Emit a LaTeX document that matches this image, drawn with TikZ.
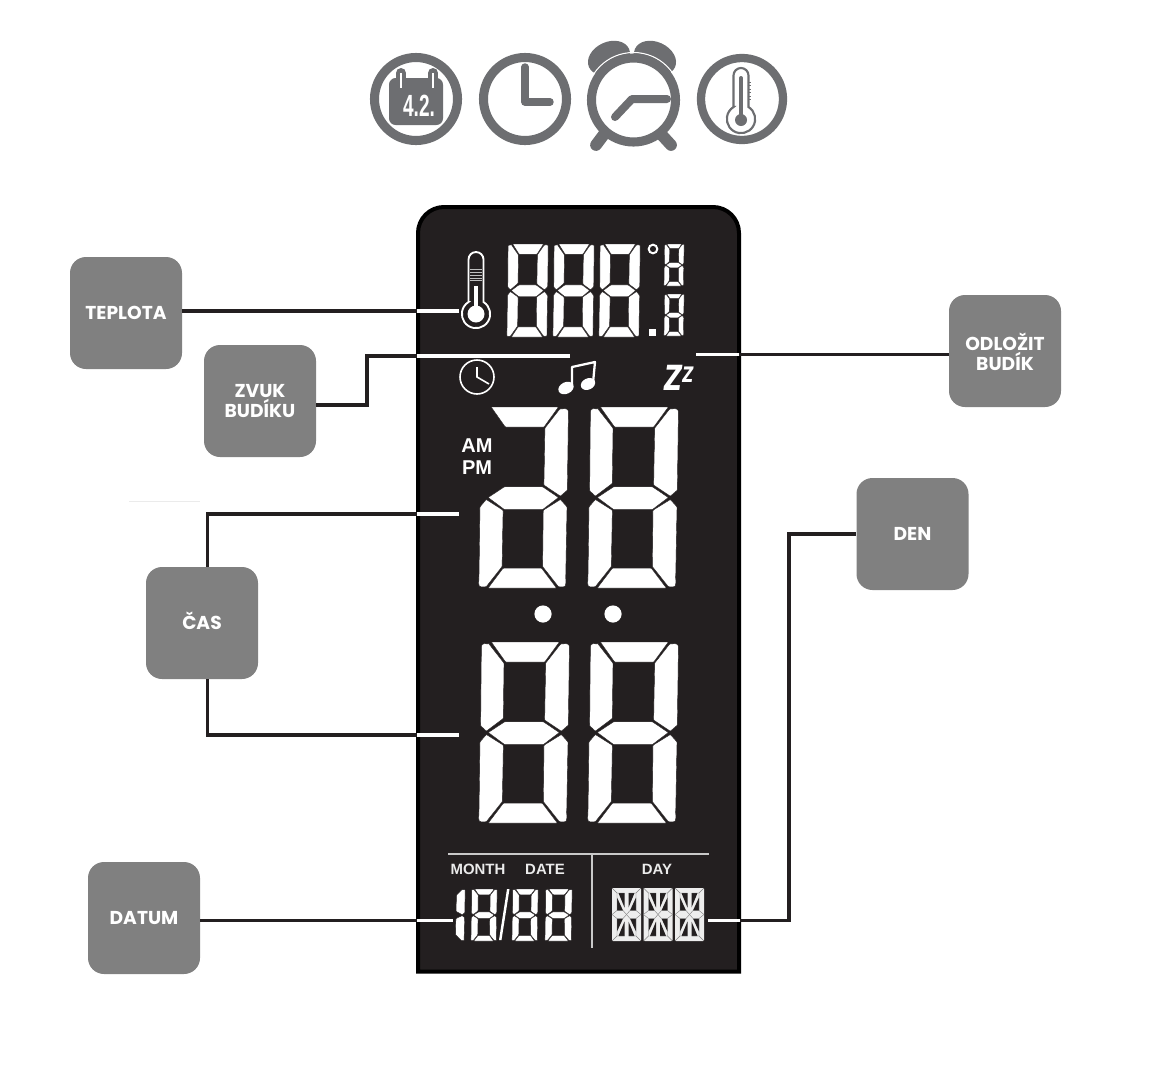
\documentclass[tikz,border=0pt]{standalone}
\usepackage{fontspec}
\setmainfont{Liberation Sans}
\newfontfamily\pop{Poppins}
\newfontfamily\zedfont{DejaVu Sans}
\definecolor{panelbg}{HTML}{231F20}
\definecolor{boxgray}{HTML}{808080}
\definecolor{icongray}{HTML}{6D6E71}
\definecolor{sepgray}{HTML}{C9C9C9}
\tikzset{
  segfill/.style={fill=white,draw=panelbg,line width=.3pt,rounded corners=.5pt},
  callout/.style={fill=boxgray,rounded corners=12pt,minimum width=84pt,minimum height=84pt,inner sep=0pt,
    align=center,text=white,font=\pop\fontsize{14}{15}\selectfont\bfseries},
  wire/.style={draw=panelbg,line width=2.9pt,line join=miter},
  wirew/.style={draw=white,line width=2.4pt},
  ring/.style={draw=icongray,line width=6.8pt},
  hand/.style={draw=icongray,line width=5.6pt,line cap=round,line join=round},
  lcdtxt/.style={text=white,inner sep=0pt},
  ltxt/.style={text=white!92!black,inner sep=0pt,font=\fontsize{11.2}{11.2}\selectfont\bfseries}
}
\newcommand\capt[1]{\rule{0pt}{10pt}\smash{#1}}
\newcommand\sA{\fill[segfill] (512,22)--(716,22)--(672,82)--(555,82)--cycle;}
\newcommand\sB{\fill[segfill] (505,28)--(550,85)--(548,250)--(497,288)--(480,272)--(482,52) .. controls (482,26) .. (505,28)--cycle;}
\newcommand\sC{\fill[segfill] (720,28) .. controls (747,26) .. (746,52)--(743,270)--(722,288)--(672,255)--(675,85)--cycle;}
\newcommand\sD{\fill[segfill] (503,292)--(552,260)--(668,260)--(716,292)--(668,328)--(552,328)--cycle;}
\newcommand\sE{\fill[segfill] (497,298)--(548,330)--(545,498)--(497,558) .. controls (473,560) .. (475,530)--(478,320)--cycle;}
\newcommand\sF{\fill[segfill] (722,298)--(742,320)--(738,530) .. controls (739,560) .. (716,558)--(668,498)--(670,330)--cycle;}
\newcommand\sG{\fill[segfill] (503,562)--(548,503)--(665,503)--(710,562)--cycle;}
\newcommand\lcd[5]{\begin{scope}[shift={(#1,#2)},xscale=#3/270,yscale=#4/540,shift={(-475,-22)}]#5\end{scope}}
\newcommand\alleight{\sA\sB\sC\sD\sE\sF\sG}
\newcommand\aquad[2]{\begin{scope}[xscale=#1,yscale=#2]
  \fill[panelbg] (-2,-7)--(-2,-21.5)--(-8,-21.5)--cycle;
  \fill[panelbg] (-9.5,-4)--(-9.5,-17)--(-3.5,-4)--cycle;
  \draw[gray,line width=.3pt] (-14.5,-26.5)--(-9.5,-21.5) (-9.5,-21.5)--(-2,-21.5) (-9.5,-21.5)--(-9.5,-4) (-14.5,0)--(-9.5,-4)--(-3.5,-4)--(0,0);
\end{scope}}
\newcommand\alphadigit[1]{\begin{scope}[shift={(#1,914.5)}]
  \fill[white!93!black,rounded corners=.8pt] (-14.5,-26.5) rectangle (14.5,26.5);
  \aquad{1}{1}\aquad{-1}{1}\aquad{1}{-1}\aquad{-1}{-1}
\end{scope}}
\begin{document}
\begin{tikzpicture}[x=.75pt,y=-.75pt]
\useasboundingbox (0,0) rectangle (1150,1068);
\fill[white] (0,0) rectangle (1150,1068);

% ---- icons
\draw[ring] (416,99) circle[radius=41.5];
\fill[icongray,rounded corners=5pt] (389,78) rectangle (443,125);
\foreach \rx in {401,433}{
  \draw[icongray,line width=7.5pt,line cap=round] (\rx,73)--(\rx,86);
  \draw[white,line width=1.8pt] (\rx,73)--(\rx,88);
}
\node[text=white,inner sep=0pt,font=\fontsize{23}{23}\selectfont\bfseries] (caltext) at (419,106) {\scalebox{.62}[1]{4.2.}};

\draw[ring] (525,99) circle[radius=41.5];
\draw[hand] (525,67)--(525,102)--(550,102);

\fill[icongray,rotate around={25:(609,58)}] (609,58) ellipse[x radius=22,y radius=16];
\fill[icongray,rotate around={-25:(655,58)}] (655,58) ellipse[x radius=22,y radius=16];
\draw[white,line width=.8pt] (633.5,100) circle[radius=47.5];
\draw[hand,line width=8.8pt] (605,133)--(596,145);
\draw[hand,line width=8.8pt] (660,133)--(671,145);
\fill[white] (633.5,100) circle[radius=38];
\draw[ring] (633.5,100) circle[radius=42];
\draw[hand,line width=6pt] (667,99)--(632,99)--(615,117);

\draw[ring,line width=6.2pt] (742,99) circle[radius=41];
\draw[icongray,line width=1.6pt] (733.5,107)--(733.5,75.5) arc[start angle=180,end angle=360,radius=7.5]--(748.5,107)
   arc[start angle=-58,end angle=238,radius=14.15]--cycle;
\draw[icongray,line width=3pt,line cap=round] (741,78)--(741,120);
\fill[icongray] (741,120) circle[radius=6];
\foreach \ty in {82,85.5,89,92.5,96,99.5}{\draw[icongray,line width=.7pt] (747.5,\ty)--(750.5,\ty);}

% ---- faint line
\draw[black!8,line width=.6pt] (129,501)--(200,501);

% ---- panel
\path[draw=black,line width=3pt,fill=panelbg] (418,971.5) -- (418,233) arc[start angle=180,end angle=270,radius=26]
   -- (713,207) arc[start angle=270,end angle=360,radius=26] -- (739,971.5) -- cycle;

% ---- callouts
\node[callout] (teplota) at (126,313) {\capt{TEPLOTA}};
\node[callout] (zvuk) at (260,401) {\capt{ZVUK}\\\capt{BUDÍKU}};
\node[callout] (cas) at (202,623) {\capt{ČAS}};
\node[callout] (datum) at (144,918) {\capt{DATUM}};
\node[callout] (odlozit) at (1005,351) {\rule{0pt}{14pt}\smash{ODLOŽIT}\\\capt{BUDÍK}};
\node[callout] (den) at (912.5,534) {\capt{DEN}};

% ---- connector anchors
\coordinate (tA) at (417,311); \coordinate (tB) at (459,311);
\coordinate (zA) at (367,405); \coordinate (zB) at (367,356); \coordinate (zC) at (417,356); \coordinate (zD) at (570,356);
\coordinate (oA) at (739,354.5); \coordinate (oB) at (696,354.5);
\coordinate (c1A) at (207.5,514); \coordinate (c1B) at (417,514); \coordinate (c1C) at (459,514);
\coordinate (c2A) at (207.5,735); \coordinate (c2B) at (417,735); \coordinate (c2C) at (459,735);
\coordinate (dA) at (417,920.5); \coordinate (dB) at (453,920.5);
\coordinate (eA) at (789,920.5); \coordinate (eB) at (789,534); \coordinate (eC) at (740,920.5); \coordinate (eD) at (708,920.5);

\draw[wire] (teplota.east |- tA)--(tA);
\draw[wirew] (tA)--(tB);
\draw[wire] (zvuk.east |- zA)--(zA)--(zB)--(zC);
\draw[wirew] (zC)--(zD);
\draw[wire] (odlozit.west |- oA)--(oA);
\draw[wirew] (oA)--(oB);
\draw[wire] (cas.north -| c1A)--(c1A)--(c1B);
\draw[wirew] (c1B)--(c1C);
\draw[wire] (cas.south -| c2A)--(c2A)--(c2B);
\draw[wirew] (c2B)--(c2C);
\draw[wire] (datum.east |- dA)--(dA);
\draw[wirew] (dA)--(dB);
\draw[wire] (eC)--(eA)--(eB)--(den.west |- eB);
\draw[wirew] (eC)--(eD);

% ---- temperature row
\draw[white,line width=1.4pt] (468.5,302)--(468.5,259.5) arc[start angle=180,end angle=360,radius=7.5]--(483.5,302)
   arc[start angle=-58,end angle=238,radius=14.15]--cycle;
\draw[white,line width=3pt] (476,286)--(476,314);
\fill[white] (476,314) circle[radius=8.5];
\foreach \ty in {269,272,275,278,280}{\draw[white!75!black,line width=.6pt] (470,\ty)--(482,\ty);}

\lcd{507}{244}{41}{93}{\alleight}
\lcd{553}{244}{41}{93}{\alleight}
\lcd{599}{244}{41}{93}{\alleight}
\lcd{664}{244}{20}{42}{\alleight}
\lcd{664}{294}{20}{42}{\alleight}
\draw[white,line width=1.5pt] (653,249) circle[radius=4.3];
\fill[white] (648.5,329) rectangle (655.5,336);

% ---- icon row
\draw[white,line width=1.2pt] (477,377) circle[radius=17];
\draw[white,line width=1.2pt] (477,367)--(477,377)--(489,384);
\fill[white,rotate around={25:(566,388)}] (566,388) ellipse[x radius=8,y radius=5.8];
\fill[white,rotate around={25:(588,384)}] (588,384) ellipse[x radius=7.5,y radius=5.6];
\draw[white,line width=1.7pt,line join=round] (572,387)--(572,367)--(595,362)--(593,383);
\node[lcdtxt,font=\zedfont\fontsize{26}{26}\selectfont\bfseries\itshape] (zz) at (679,378) {\scalebox{.72}[1]{Z}\raisebox{6pt}{\fontsize{16}{16}\selectfont\scalebox{.72}[1]{Z}}};

% ---- big digits
\lcd{479}{407}{89}{181}{\sA\sC\sD\sE\sF\sG}
\lcd{588}{407}{90}{181}{\alleight}
\node[lcdtxt,font=\fontsize{15}{15}\selectfont\bfseries] (am) at (477,446) {AM};
\node[lcdtxt,font=\fontsize{15}{15}\selectfont\bfseries] (pm) at (477,468) {PM};
\fill[white] (543,614) circle[radius=8.6];
\fill[white] (613,614) circle[radius=8.6];
\lcd{479}{642}{90}{181}{\alleight}
\lcd{588}{642}{90}{181}{\alleight}

% ---- bottom row
\draw[sepgray,line width=1pt] (448,854)--(709,854);
\draw[sepgray,line width=1pt] (592,854)--(592,948);
\node[ltxt] (month) at (478,869) {MONTH};
\node[ltxt] (date) at (545,869) {DATE};
\node[ltxt] (day) at (657,869) {DAY};
\lcd{432}{889}{33}{52}{\sC\sF}
\lcd{471}{889}{26}{52}{\alleight}
\fill[white] (499,940)--(501.5,940)--(509.5,889)--(507,889)--cycle;
\lcd{512}{889}{26}{52}{\alleight}
\lcd{545}{889}{27}{52}{\alleight}
\alphadigit{626.5}
\alphadigit{658}
\alphadigit{689.5}
\end{tikzpicture}
\end{document}
